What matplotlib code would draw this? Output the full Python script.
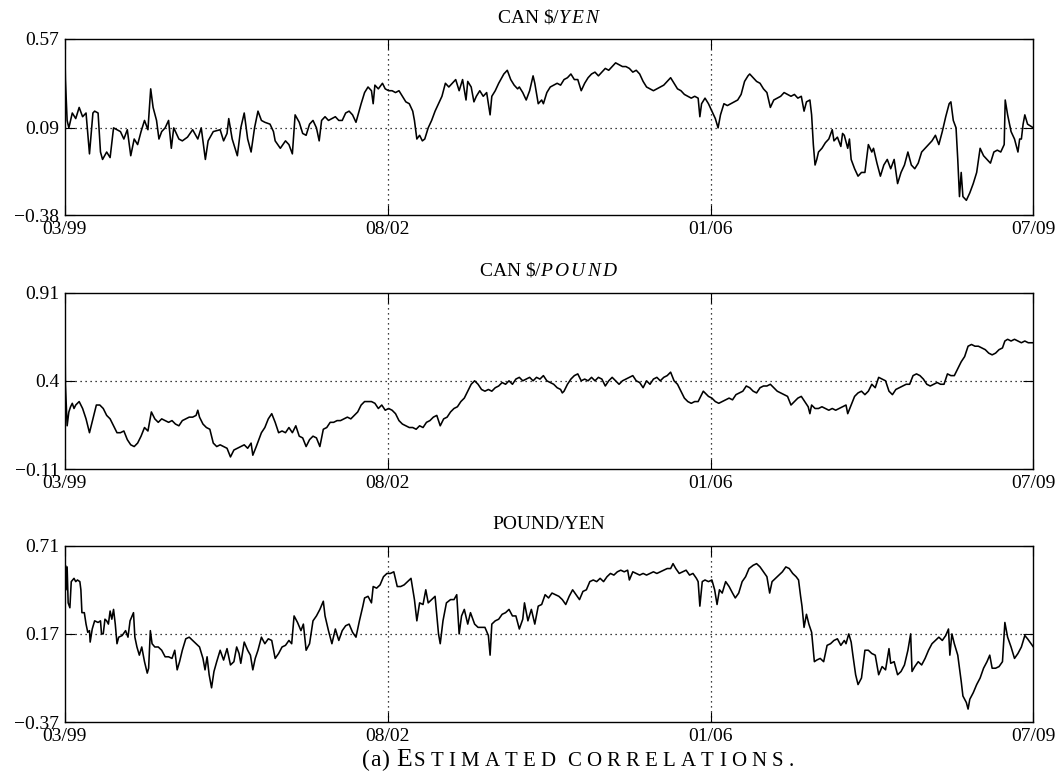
import numpy as np
import matplotlib.pyplot as plt
from matplotlib.transforms import IdentityTransform

plt.rcParams['font.family'] = 'Liberation Serif'
plt.rcParams['mathtext.fontset'] = 'custom'
plt.rcParams['mathtext.rm'] = 'Liberation Serif'
plt.rcParams['mathtext.it'] = 'Liberation Serif:italic'

# trading-day index runs from 0 (03/99) to 2817 (07/09)
n_days = 2817
date_labels = ['03/99', '08/02', '01/06', '07/09']

titles = [r'CAN \$/$Y\,E\,N$', r'CAN \$/$P\,O\,U\,N\,D$', 'POUND/YEN']
y_low = [-0.38, -0.11, -0.37]
y_mid = [0.09, 0.4, 0.17]
y_high = [0.57, 0.91, 0.71]

# CAN $ / YEN
days_cy = [0, 2, 7, 12, 22, 32, 42, 52, 62, 72, 82, 87, 97, 104, 110, 122, 132, 142, 152, 162,
           172, 182, 192, 202, 212, 222, 232, 242, 250, 257, 267, 274, 282, 292, 302, 310, 317, 332, 342, 357,
           372, 387, 397, 409, 417, 432, 452, 462, 472, 477, 487, 502, 512, 522, 532, 542, 552, 562, 572, 582,
           597, 607, 612, 627, 642, 652, 662, 670, 682, 692, 702, 712, 722, 732, 740, 747, 757, 767, 777, 787,
           797, 807, 817, 827, 837, 847, 862, 872, 882, 892, 897, 902, 912, 924, 932, 942, 952, 962, 972, 982,
           992, 1002, 1012, 1017, 1024, 1032, 1040, 1047, 1057, 1067, 1077, 1087, 1097, 1107, 1117, 1127, 1137, 1147, 1157, 1167,
           1172, 1182, 1190, 1197, 1207, 1217, 1227, 1237, 1242, 1252, 1262, 1277, 1287, 1297, 1307, 1317,
           1322, 1332, 1342, 1352, 1362, 1367, 1377, 1387, 1392, 1402, 1412, 1422, 1432, 1442, 1452, 1462, 1472, 1482, 1492, 1502,
           1512, 1522, 1532, 1542, 1552, 1562, 1572, 1582, 1592, 1602, 1612, 1622, 1632, 1642, 1652, 1662, 1672, 1682, 1692, 1702,
           1712, 1722, 1732, 1742, 1752, 1762, 1772, 1782, 1792, 1802, 1812, 1822, 1832, 1842, 1847, 1852, 1862, 1872, 1882, 1892,
           1900, 1907, 1917, 1927, 1937, 1947, 1957, 1967, 1977, 1987, 1992, 2002, 2012, 2022, 2032, 2042, 2052, 2062, 2072, 2082,
           2092, 2102, 2112, 2122, 2132, 2142, 2150, 2157, 2167, 2172, 2177, 2182, 2187, 2192, 2202, 2212, 2222, 2232, 2237, 2247,
           2257, 2262, 2267, 2277, 2282, 2287, 2297, 2307, 2317, 2327, 2337, 2347, 2352, 2362, 2372, 2382, 2392, 2402, 2412, 2422,
           2432, 2442, 2452, 2462, 2472, 2482, 2492, 2502, 2512, 2522, 2532, 2542, 2552, 2562, 2572, 2577, 2584, 2592, 2597, 2602,
           2607, 2612, 2622, 2632, 2642, 2652, 2662, 2672, 2682, 2692, 2702, 2712, 2722, 2732, 2735, 2742, 2752, 2762, 2772, 2777,
           2782, 2787, 2792, 2800, 2817]
corr_cy = [0.55, 0.35, 0.13, 0.09, 0.17, 0.14, 0.20, 0.15, 0.17, -0.05, 0.17, 0.18, 0.17, -0.04, -0.08, -0.04, -0.07, 0.09, 0.08, 0.07,
           0.03, 0.08, -0.06, 0.03, 0.00, 0.07, 0.13, 0.08, 0.30, 0.20, 0.13, 0.03, 0.07, 0.09, 0.13, -0.02, 0.09, 0.03, 0.02, 0.04,
           0.08, 0.03, 0.09, -0.08, 0.02, 0.07, 0.08, 0.02, 0.06, 0.14, 0.03, -0.06, 0.09, 0.17, 0.03, -0.04, 0.09, 0.18, 0.13, 0.12,
           0.11, 0.07, 0.02, -0.02, 0.02, 0.00, -0.05, 0.16, 0.12, 0.06, 0.05, 0.11, 0.13, 0.09, 0.02, 0.13, 0.15, 0.13, 0.14, 0.15,
           0.13, 0.13, 0.17, 0.18, 0.16, 0.12, 0.22, 0.28, 0.31, 0.29, 0.22, 0.32, 0.30, 0.33, 0.30, 0.29, 0.29, 0.28, 0.29, 0.26,
           0.23, 0.22, 0.18, 0.13, 0.03, 0.05, 0.02, 0.03, 0.09, 0.13, 0.18, 0.22, 0.26, 0.33, 0.31, 0.33, 0.35, 0.29, 0.35, 0.24,
           0.34, 0.31, 0.23, 0.26, 0.29, 0.26, 0.28, 0.16, 0.26, 0.29, 0.33, 0.38, 0.40, 0.35, 0.32, 0.30,
           0.31, 0.28, 0.24, 0.29, 0.37, 0.33, 0.22, 0.24, 0.22, 0.28, 0.31, 0.32, 0.33, 0.32, 0.35, 0.36, 0.38, 0.35, 0.35, 0.29,
           0.33, 0.36, 0.38, 0.39, 0.37, 0.39, 0.41, 0.40, 0.42, 0.44, 0.43, 0.42, 0.42, 0.41, 0.39, 0.40, 0.38, 0.34, 0.31, 0.30,
           0.29, 0.30, 0.31, 0.32, 0.34, 0.36, 0.33, 0.30, 0.29, 0.27, 0.26, 0.25, 0.26, 0.25, 0.15, 0.22, 0.25, 0.22, 0.18, 0.14,
           0.09, 0.16, 0.22, 0.21, 0.22, 0.23, 0.24, 0.27, 0.34, 0.37, 0.38, 0.36, 0.34, 0.33, 0.30, 0.28, 0.20, 0.24, 0.25, 0.26,
           0.28, 0.27, 0.26, 0.27, 0.25, 0.26, 0.18, 0.23, 0.24, 0.16, 0.00, -0.11, -0.08, -0.04, -0.02, 0.01, 0.03, 0.08, 0.02, 0.04,
           -0.01, 0.06, 0.05, -0.02, 0.03, -0.08, -0.13, -0.17, -0.15, -0.15, 0.00, -0.04, -0.02, -0.10, -0.17, -0.11, -0.08, -0.13, -0.08, -0.21,
           -0.15, -0.11, -0.04, -0.11, -0.13, -0.10, -0.04, -0.02, 0.00, 0.02, 0.05, 0.00, 0.07, 0.15, 0.22, 0.23, 0.13, 0.09, -0.08, -0.28,
           -0.15, -0.28, -0.30, -0.26, -0.21, -0.15, -0.02, -0.06, -0.08, -0.10, -0.04, -0.03, -0.04, 0.00, 0.24, 0.16, 0.07, 0.03, -0.04, 0.03,
           0.03, 0.11, 0.16, 0.11, 0.09]

# CAN $ / POUND
days_cp = [0, 2, 7, 12, 17, 22, 27, 32, 42, 47, 52, 62, 72, 82, 92, 102, 112, 122, 132, 142,
           152, 162, 172, 182, 192, 202, 212, 222, 232, 242, 252, 262, 272, 282, 292, 302, 312, 322, 332, 342,
           352, 362, 372, 382, 387, 392, 402, 412, 422, 432, 442, 452, 462, 472, 482, 492, 502, 512, 522, 532,
           542, 547, 557, 572, 582, 592, 602, 612, 622, 632, 642, 652, 662, 672, 682, 692, 702, 712, 722, 732,
           742, 752, 762, 772, 782, 792, 802, 812, 822, 832, 842, 852, 862, 872, 882, 892, 902, 912, 922, 932,
           942, 952, 962, 972, 982, 992, 1002, 1012, 1022, 1032, 1042, 1052, 1062, 1072, 1082, 1092, 1102, 1112, 1122, 1132,
           1142, 1152, 1162, 1172, 1182, 1192, 1202, 1212, 1222, 1232, 1242, 1252, 1262, 1272, 1282, 1292, 1302, 1312,
           1322, 1332, 1342, 1352, 1362, 1372, 1382, 1392, 1402, 1412, 1422, 1432, 1442, 1447, 1452, 1462, 1472, 1482, 1492, 1502,
           1512, 1522, 1532, 1542, 1552, 1562, 1572, 1582, 1592, 1602, 1612, 1622, 1632, 1642, 1652, 1662, 1672, 1682, 1692, 1702,
           1712, 1722, 1732, 1742, 1752, 1762, 1772, 1782, 1792, 1802, 1812, 1822, 1832, 1842, 1852, 1857, 1862, 1872, 1882, 1892,
           1902, 1912, 1922, 1932, 1942, 1952, 1962, 1972, 1982, 1992, 2002, 2012, 2022, 2032, 2042, 2052, 2062, 2072, 2082, 2092,
           2102, 2112, 2122, 2132, 2142, 2152, 2162, 2167, 2172, 2182, 2192, 2202, 2212, 2222, 2232, 2242, 2252, 2262, 2272, 2277,
           2287, 2297, 2307, 2317, 2327, 2337, 2347, 2357, 2367, 2377, 2387, 2397, 2407, 2417, 2427, 2437, 2447, 2457, 2467, 2477,
           2487, 2497, 2507, 2517, 2527, 2537, 2547, 2557, 2567, 2577, 2587, 2597, 2607, 2617, 2627, 2637, 2647, 2657, 2667, 2677,
           2687, 2697, 2707, 2717, 2727, 2734, 2742, 2752, 2762, 2772, 2782, 2792, 2802, 2817]
corr_cp = [0.88, 0.38, 0.14, 0.22, 0.25, 0.27, 0.24, 0.26, 0.28, 0.26, 0.24, 0.18, 0.10, 0.18, 0.26, 0.26, 0.24, 0.20, 0.18, 0.14,
           0.10, 0.10, 0.11, 0.06, 0.03, 0.02, 0.04, 0.08, 0.13, 0.11, 0.22, 0.18, 0.16, 0.18, 0.17, 0.16, 0.17, 0.15, 0.14, 0.17,
           0.18, 0.19, 0.19, 0.20, 0.23, 0.19, 0.15, 0.13, 0.12, 0.04, 0.02, 0.03, 0.02, 0.01, -0.04, 0.00, 0.01, 0.02, 0.03, 0.01,
           0.04, -0.03, 0.02, 0.10, 0.13, 0.18, 0.21, 0.16, 0.10, 0.11, 0.10, 0.13, 0.10, 0.14, 0.08, 0.07, 0.02, 0.06, 0.08, 0.07,
           0.02, 0.12, 0.13, 0.16, 0.16, 0.17, 0.17, 0.18, 0.19, 0.18, 0.20, 0.22, 0.26, 0.28, 0.28, 0.28, 0.27, 0.24, 0.26, 0.23,
           0.24, 0.23, 0.21, 0.17, 0.15, 0.14, 0.13, 0.13, 0.12, 0.14, 0.13, 0.16, 0.17, 0.19, 0.20, 0.14, 0.18, 0.19, 0.22, 0.24,
           0.25, 0.28, 0.30, 0.34, 0.38, 0.40, 0.38, 0.35, 0.34, 0.35, 0.34, 0.36, 0.37, 0.39, 0.38, 0.40, 0.38, 0.41,
           0.42, 0.40, 0.41, 0.42, 0.40, 0.42, 0.41, 0.43, 0.40, 0.39, 0.38, 0.36, 0.35, 0.33, 0.34, 0.38, 0.41, 0.43, 0.44, 0.40,
           0.41, 0.40, 0.42, 0.40, 0.42, 0.41, 0.37, 0.40, 0.42, 0.40, 0.38, 0.40, 0.41, 0.42, 0.43, 0.40, 0.39, 0.36, 0.40, 0.38,
           0.41, 0.42, 0.40, 0.42, 0.43, 0.45, 0.40, 0.38, 0.34, 0.30, 0.28, 0.27, 0.28, 0.28, 0.32, 0.34, 0.33, 0.31, 0.30, 0.28,
           0.27, 0.28, 0.29, 0.30, 0.29, 0.32, 0.33, 0.34, 0.37, 0.36, 0.34, 0.33, 0.36, 0.37, 0.37, 0.38, 0.36, 0.34, 0.33, 0.32,
           0.31, 0.26, 0.28, 0.30, 0.31, 0.28, 0.25, 0.21, 0.26, 0.24, 0.24, 0.25, 0.24, 0.23, 0.24, 0.23, 0.24, 0.25, 0.26, 0.21,
           0.26, 0.31, 0.33, 0.34, 0.32, 0.34, 0.38, 0.36, 0.42, 0.41, 0.40, 0.34, 0.32, 0.35, 0.36, 0.37, 0.38, 0.38, 0.43, 0.44,
           0.43, 0.41, 0.38, 0.37, 0.38, 0.39, 0.38, 0.38, 0.44, 0.43, 0.43, 0.47, 0.51, 0.54, 0.60, 0.61, 0.60, 0.60, 0.59, 0.58,
           0.56, 0.55, 0.56, 0.58, 0.59, 0.63, 0.64, 0.63, 0.64, 0.63, 0.62, 0.63, 0.62, 0.62]

# POUND / YEN
days_py = [0, 2, 4, 7, 10, 15, 19, 27, 32, 37, 44, 47, 50, 57, 62, 67, 72, 74, 80, 87,
           97, 104, 107, 112, 117, 122, 127, 132, 137, 142, 147, 152, 157, 167, 177, 184, 190, 200, 204, 210,
           217, 224, 232, 240, 244, 249, 254, 262, 272, 282, 292, 302, 312, 320, 327, 334, 342, 352, 362, 372,
           382, 392, 402, 408, 414, 420, 427, 434, 442, 452, 462, 472, 482, 492, 500, 507, 512, 522, 532, 540,
           547, 554, 562, 572, 582, 592, 602, 612, 622, 632, 642, 652, 660, 667, 677, 687, 694, 702, 712, 722,
           732, 742, 752, 757, 767, 777, 787, 797, 807, 817, 827, 837, 847, 857, 867, 872, 882, 892, 897, 907,
           917, 927, 937, 947, 957, 967, 977, 987, 997, 1007, 1017, 1024, 1032, 1042, 1050, 1057, 1067, 1077, 1087, 1092,
           1100, 1110, 1122, 1132, 1140, 1147, 1154, 1162, 1172, 1180, 1192, 1202, 1212, 1222, 1232, 1237, 1242, 1252, 1262, 1272,
           1282, 1292, 1302, 1312, 1322, 1332, 1337, 1347, 1357, 1367, 1377, 1387, 1397, 1407, 1417, 1427, 1437, 1447, 1457, 1467,
           1477, 1487, 1497, 1507, 1517, 1527, 1537, 1547, 1557, 1567, 1577, 1587, 1597, 1607, 1617, 1627, 1637, 1642, 1652, 1662,
           1672, 1682, 1692, 1702, 1712, 1722, 1732, 1742, 1752, 1762, 1769, 1777, 1787, 1797, 1807, 1817, 1827, 1837, 1842, 1847,
           1854, 1862, 1872, 1882, 1890, 1897, 1904, 1912, 1922, 1932, 1942, 1950, 1960, 1970, 1980, 1990, 2002, 2012, 2022, 2032,
           2042, 2050, 2057, 2067, 2077, 2087, 2097, 2107, 2117, 2127, 2134, 2140, 2144, 2150, 2157, 2164, 2172, 2180, 2187, 2197,
           2207, 2217, 2227, 2237, 2247, 2257, 2267, 2272, 2280, 2287, 2292, 2300, 2307, 2317, 2327, 2337, 2347, 2357, 2367, 2377,
           2387, 2397, 2402, 2412, 2422, 2432, 2442, 2452, 2460, 2464, 2472, 2482, 2492, 2502, 2512, 2522, 2532, 2542, 2552, 2562,
           2570, 2574, 2580, 2587, 2597, 2602, 2607, 2612, 2622, 2627, 2632, 2642, 2652, 2662, 2672, 2682, 2690, 2697, 2707, 2717,
           2727, 2734, 2742, 2752, 2762, 2772, 2782, 2792, 2800, 2817]
corr_py = [0.44, 0.59, 0.44, 0.58, 0.36, 0.33, 0.49, 0.51, 0.49, 0.50, 0.49, 0.44, 0.30, 0.30, 0.23, 0.18, 0.19, 0.12, 0.20, 0.25,
           0.24, 0.25, 0.17, 0.17, 0.26, 0.25, 0.23, 0.31, 0.26, 0.32, 0.23, 0.11, 0.15, 0.16, 0.19, 0.15, 0.25, 0.30, 0.15, 0.09,
           0.04, 0.09, 0.00, -0.07, -0.04, 0.19, 0.11, 0.09, 0.09, 0.07, 0.03, 0.03, 0.02, 0.07, -0.05, 0.00, 0.07, 0.14, 0.15, 0.13,
           0.11, 0.09, 0.02, -0.05, 0.03, -0.08, -0.16, -0.06, 0.00, 0.07, 0.01, 0.08, -0.02, 0.00, 0.09, 0.05, -0.01, 0.12, 0.07, 0.04,
           -0.05, 0.02, 0.07, 0.15, 0.11, 0.14, 0.13, 0.02, 0.05, 0.09, 0.10, 0.13, 0.11, 0.28, 0.24, 0.19, 0.23, 0.07, 0.11, 0.25,
           0.28, 0.32, 0.37, 0.28, 0.19, 0.11, 0.20, 0.13, 0.19, 0.22, 0.23, 0.18, 0.15, 0.25, 0.34, 0.39, 0.40, 0.36, 0.46, 0.45,
           0.47, 0.52, 0.54, 0.54, 0.55, 0.46, 0.46, 0.47, 0.49, 0.51, 0.38, 0.25, 0.36, 0.35, 0.44, 0.36, 0.38, 0.40, 0.17, 0.11,
           0.25, 0.36, 0.38, 0.38, 0.41, 0.17, 0.28, 0.32, 0.23, 0.30, 0.23, 0.21, 0.21, 0.21, 0.16, 0.04, 0.23, 0.25, 0.26, 0.29,
           0.30, 0.32, 0.28, 0.28, 0.20, 0.26, 0.36, 0.25, 0.32, 0.23, 0.34, 0.35, 0.41, 0.39, 0.42, 0.41, 0.40, 0.38, 0.35, 0.40,
           0.44, 0.41, 0.38, 0.43, 0.44, 0.49, 0.50, 0.49, 0.51, 0.49, 0.52, 0.54, 0.53, 0.55, 0.56, 0.55, 0.56, 0.50, 0.55, 0.54,
           0.53, 0.54, 0.53, 0.54, 0.55, 0.54, 0.55, 0.56, 0.57, 0.57, 0.60, 0.57, 0.54, 0.55, 0.56, 0.53, 0.54, 0.51, 0.49, 0.34,
           0.49, 0.50, 0.49, 0.50, 0.44, 0.35, 0.44, 0.42, 0.49, 0.46, 0.42, 0.39, 0.42, 0.49, 0.52, 0.57, 0.59, 0.60, 0.58, 0.55,
           0.52, 0.42, 0.49, 0.51, 0.53, 0.55, 0.58, 0.57, 0.54, 0.52, 0.50, 0.40, 0.34, 0.21, 0.29, 0.23, 0.18, 0.00, 0.01, 0.02,
           0.00, 0.10, 0.11, 0.13, 0.14, 0.10, 0.13, 0.11, 0.17, 0.12, 0.04, -0.08, -0.14, -0.10, 0.07, 0.07, 0.05, 0.04, -0.08, -0.03,
           -0.05, 0.08, -0.01, 0.00, -0.08, -0.06, -0.02, 0.07, 0.17, -0.06, -0.03, 0.00, -0.02, 0.02, 0.07, 0.11, 0.13, 0.15, 0.13, 0.16,
           0.20, 0.04, 0.17, 0.11, 0.04, -0.04, -0.12, -0.21, -0.25, -0.29, -0.23, -0.19, -0.14, -0.10, -0.04, 0.00, 0.04, -0.04, -0.04, -0.03,
           0.00, 0.24, 0.15, 0.09, 0.02, 0.05, 0.09, 0.16, 0.14, 0.09]

all_days = [days_cy, days_cp, days_py]
all_corr = [corr_cy, corr_cp, corr_py]

fig = plt.figure(figsize=(10.61, 7.74), dpi=100)
left, width, height = 0.061, 0.913, 0.228
bottoms = [0.722, 0.394, 0.067]

x_ticks = np.linspace(0, n_days, len(date_labels))

for i in range(3):
    ax = fig.add_axes([left, bottoms[i], width, height])
    ax.plot(all_days[i], all_corr[i], color='black', lw=1.15)
    ax.set_xlim(0, n_days)
    ax.set_ylim(y_low[i], y_high[i])
    ax.set_xticks(x_ticks)
    ax.set_xticklabels(date_labels)
    yt = [y_low[i], y_mid[i], y_high[i]]
    ax.set_yticks(yt)
    ax.set_yticklabels([('%g' % v).replace('-', '\u2212') for v in yt])
    ax.tick_params(direction='in', length=7, width=0.8, labelsize=14,
                   top=True, right=True, pad=4)
    # dotted grid only on the inner ticks
    for xt in x_ticks[1:-1]:
        ax.axvline(xt, color='black', ls=(0, (1, 3)), lw=0.9)
    ax.axhline(y_mid[i], color='black', ls=(0, (1, 3)), lw=0.9)
    for sp in ax.spines.values():
        sp.set_linewidth(1.0)
    ax.set_title(titles[i], fontsize=14, pad=12)

# caption set in small caps, letter by letter
fig.canvas.draw()
r = fig.canvas.get_renderer()
caption = [('(a)', 17, 0.5), (' ', 17, 0), ('E', 18.5, 1.5),
           ('STIMATED', 15, 5.2), (' ', 15, 0), ('CORRELATIONS.', 15, 5.2)]
x = 362
y_base = 8
for txt, size, track in caption:
    for ch in txt:
        if ch == ' ':
            x += size * 0.4
            continue
        t = fig.text(x, y_base, ch, fontsize=size, va='baseline', ha='left',
                     transform=IdentityTransform())
        x = t.get_window_extent(renderer=r).x1 + track

fig.savefig('out.png', dpi=100)
